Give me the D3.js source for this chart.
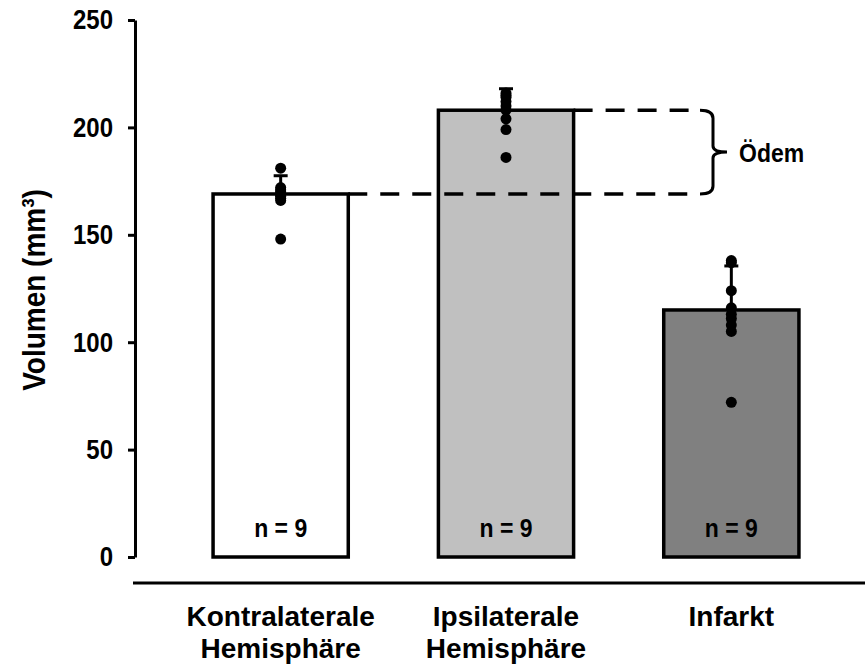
<!DOCTYPE html>
<html>
  <head>
  <title>Volumen</title>
  <style>
    body, html {
      margin: 0;
      padding: 0;
      background: #fff;
    }
    text {
      font-family: "Liberation Sans", Arial, sans-serif;
      font-weight: bold;
    }
  </style>
  </head>
  <body>

  <svg id="svg" width="865" height="666"></svg>

  <script src="https://d3js.org/d3.v7.min.js"></script>
  <script>
    // data
    const categories = ['Kontralaterale Hemisphäre', 'Ipsilaterale Hemisphäre', 'Infarkt']
    const labelLines = [['Kontralaterale', 'Hemisphäre'], ['Ipsilaterale', 'Hemisphäre'], ['Infarkt']]
    const means = [169, 208, 115]
    const errors = [8.5, 10, 20.5]
    const points = [
      [181, 172, 171, 170, 169, 168, 167, 166, 148],
      [216, 215, 214, 212, 210, 208, 204, 199, 186],
      [138, 137, 124, 116, 113, 111, 108, 105, 72]
    ]
    const nLabels = ['n = 9', 'n = 9', 'n = 9']
    const fills = ['#ffffff', '#c0c0c0', '#808080']
    const yTicks = [0, 50, 100, 150, 200, 250]

    // text in the original is a little stretched vertically
    const stretch = 1.15

    const svg = d3.select('#svg')

    const yscale = d3.scaleLinear()
      .domain([0, 250])
      .range([557, 20])

    const xscale = d3.scaleBand()
      .domain(categories)
      .range([168, 844])
      .paddingInner(0.4)
      .paddingOuter(0.2)

    const bw = xscale.bandwidth()
    const cx = d => xscale(d) + bw / 2

    function label(x, y, str, size, anchor, rotate, sy) {
      const t = svg.append('text')
        .attr('transform', `translate(${x},${y})${rotate ? ' rotate(-90)' : ''} scale(1,${sy || stretch})`)
        .attr('text-anchor', anchor || 'middle')
        .attr('dy', '0.36em')
        .attr('font-size', size)
        .text(str)
      return t
    }

    // bars
    svg.append('g')
      .selectAll('rect')
      .data(categories)
      .enter()
      .append('rect')
      .attr('x', d => xscale(d))
      .attr('y', (d, i) => yscale(means[i]))
      .attr('width', bw)
      .attr('height', (d, i) => yscale(0) - yscale(means[i]))
      .attr('fill', (d, i) => fills[i])
      .attr('stroke', '#000')
      .attr('stroke-width', 3.5)

    // dashed lines + bracket for the oedema
    const bx = 700, spine = 713, tip = 727
    const yLow = yscale(means[0]), yHigh = yscale(means[1])
    const dash = svg.append('g')
      .attr('stroke', '#000')
      .attr('stroke-width', 3.5)
      .attr('stroke-dasharray', '19,13')
    dash.append('line')
      .attr('x1', xscale(categories[0]) + bw).attr('x2', bx)
      .attr('y1', yLow).attr('y2', yLow)
    dash.append('line')
      .attr('x1', xscale(categories[1]) + bw).attr('x2', bx)
      .attr('y1', yHigh).attr('y2', yHigh)

    const yMid = (yLow + yHigh) / 2
    svg.append('path')
      .attr('d', `M${bx},${yHigh} Q${spine},${yHigh} ${spine},${yHigh + 8} L${spine},${yMid - 6} Q${spine},${yMid} ${tip},${yMid} Q${spine},${yMid} ${spine},${yMid + 6} L${spine},${yLow - 8} Q${spine},${yLow} ${bx},${yLow}`)
      .attr('fill', 'none')
      .attr('stroke', '#000')
      .attr('stroke-width', 3)

    label(tip + 12, yMid, 'Ödem', 23, 'start')

    // error bars (upper only)
    const err = svg.append('g').attr('stroke', '#000').attr('stroke-width', 3)
    categories.forEach((c, i) => {
      err.append('line')
        .attr('x1', cx(c)).attr('x2', cx(c))
        .attr('y1', yscale(means[i])).attr('y2', yscale(means[i] + errors[i]))
      err.append('line')
        .attr('x1', cx(c) - 7).attr('x2', cx(c) + 7)
        .attr('y1', yscale(means[i] + errors[i])).attr('y2', yscale(means[i] + errors[i]))
    })

    // individual animals
    categories.forEach((c, i) => {
      svg.append('g')
        .selectAll('circle')
        .data(points[i])
        .enter()
        .append('circle')
        .attr('cx', cx(c))
        .attr('cy', d => yscale(d))
        .attr('r', 5.5)
        .attr('fill', '#000')
    })

    // n labels
    categories.forEach((c, i) => label(cx(c), 527, nLabels[i], 23))

    // y axis
    const leftAxis = d3.axisLeft(yscale)
      .tickValues(yTicks)
      .tickSize(7)
      .tickSizeOuter(0)
      .tickPadding(15)
    const yAxis = svg.append('g')
      .attr('transform', 'translate(135,0)')
      .call(leftAxis)
    yAxis.select('.domain').attr('stroke-width', 3)
    yAxis.selectAll('.tick line').attr('stroke-width', 3)
    yAxis.selectAll('.tick text')
      .attr('font-size', 24)
      .attr('font-family', '"Liberation Sans", Arial, sans-serif')
      .attr('font-weight', 'bold')
      .attr('fill', '#000')
      .attr('transform', `scale(1,${stretch})`)

    label(33, 290, 'Volumen (mm³)', 28, 'middle', true)

    // baseline under the bars
    svg.append('line')
      .attr('x1', 133).attr('x2', 865)
      .attr('y1', 583).attr('y2', 583)
      .attr('stroke', '#000')
      .attr('stroke-width', 3)

    // category labels
    categories.forEach((c, i) => {
      labelLines[i].forEach((line, j) => label(cx(c), 616 + j * 32, line, 28, 'middle', false, 1))
    })
  </script>
  </body>
</html>
